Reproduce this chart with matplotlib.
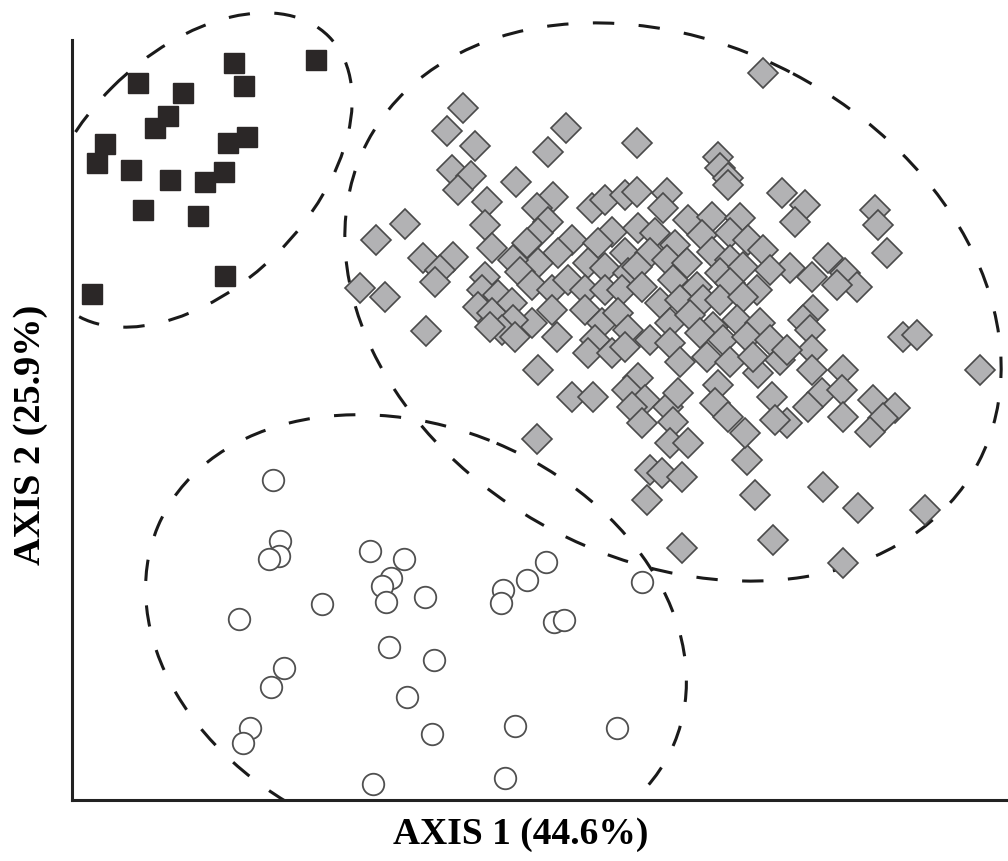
import matplotlib
matplotlib.use('Agg')
import matplotlib.pyplot as plt
from matplotlib.patches import Ellipse

# ordination scores (arbitrary units, axis 2 grows downward in the source raster)
square_x = [138, 183, 168, 155, 234, 244, 316, 105, 97, 131, 170, 205, 224, 228, 247, 143, 198, 225, 92]
square_y = [83, 93, 116, 128, 63, 86, 60, 144, 163, 170, 180, 182, 172, 143, 137, 210, 216, 276, 294]

circle_x = [273, 280, 279, 269, 370, 404, 391, 382, 386, 322, 425, 239, 546, 527, 503, 501,
            554, 564, 642, 389, 434, 284, 271, 407, 250, 243, 432, 515, 617, 373, 505]
circle_y = [480, 541, 556, 559, 551, 559, 578, 586, 602, 604, 597, 619, 562, 580, 590, 603,
            622, 620, 582, 647, 660, 668, 687, 697, 728, 743, 734, 726, 728, 784, 778]

diamond_x = [
    # upper left fringe
    463, 447, 475, 452, 471, 458, 516, 548, 566,
    405, 376, 423, 453, 440, 435, 360, 385, 426,
    # top
    637, 718, 720, 728, 763,
    # right fringe
    805, 875, 878, 887, 812, 828, 845, 857, 837,
    813, 803, 810, 812, 812, 822, 808, 843, 842, 843, 873, 895, 883, 870, 787,
    903, 917, 980, 823, 858, 925, 843,
    # lower fringe
    572, 593, 638, 627, 645, 632, 642, 668, 678, 673, 670, 688, 650, 662, 682,
    647, 747, 755, 682, 773, 718, 715, 728, 745, 758, 772, 775, 537, 538,
    # core, left half
    487, 485, 492, 553, 537, 548, 538, 527, 572, 558, 538, 513, 520, 485, 482,
    498, 478, 492, 512, 532, 552, 568, 552, 532, 513, 502, 515, 490, 557, 592,
    605, 625, 612, 598, 588, 605, 625, 628, 585, 605, 622, 585, 602, 618, 628,
    595, 588, 612, 625,
    # core, right half
    637, 667, 728, 782, 795, 663, 688, 712, 740, 638, 655, 675, 702, 730, 748,
    763, 650, 667, 712, 730, 790, 637, 687, 720, 743, 770, 642, 673, 697, 730,
    757, 660, 680, 703, 720, 743, 670, 690, 713, 737, 760, 650, 670, 700, 723,
    747, 770, 680, 707, 730, 753, 780, 787,
]
diamond_y = [
    108, 131, 146, 170, 176, 190, 182, 152, 128,
    224, 240, 258, 257, 270, 282, 288, 297, 331,
    143, 157, 168, 178, 73,
    205, 210, 225, 253, 277, 258, 273, 287, 285,
    310, 320, 330, 350, 370, 393, 407, 370, 390, 417, 400, 408, 418, 432, 423,
    337, 335, 370, 487, 508, 510, 563,
    397, 397, 378, 390, 400, 407, 423, 407, 393, 422, 443, 443, 470, 473, 477,
    500, 460, 495, 548, 540, 385, 403, 417, 433, 373, 397, 420, 439, 370,
    202, 225, 248, 197, 208, 222, 233, 243, 240, 253, 263, 260, 272, 277, 290,
    295, 307, 313, 303, 285, 290, 280, 310, 323, 320, 330, 337, 327, 337, 208,
    200, 195, 232, 243, 263, 268, 253, 273, 290, 290, 290, 310, 323, 313, 330,
    340, 353, 353, 347,
    192, 193, 185, 193, 222, 208, 220, 217, 218, 228, 233, 245, 235, 233, 240,
    250, 253, 260, 252, 260, 268, 267, 263, 273, 267, 270, 287, 280, 287, 283,
    290, 303, 300, 300, 300, 297, 323, 315, 327, 320, 323, 340, 343, 333, 340,
    337, 340, 362, 357, 362, 357, 360, 350,
]

# group envelopes: centre x, centre y, width, height, angle
envelopes = [
    (195, 170, 378, 234, -45),
    (673, 302, 690, 516, 27.7),
    (416, 635, 560, 416, 22.8),
]

fig = plt.figure(figsize=(10.08, 8.61), dpi=100)
# axes run to the top edge so the envelopes are not cut there; the y spine stops lower
ax = fig.add_axes([72 / 1008, 61 / 861, 936 / 1008, 800 / 861])

for cx, cy, w, h, ang in envelopes:
    e = Ellipse((cx, cy), w, h, angle=ang, fill=False, edgecolor='#1a1a1a',
                linewidth=2.2, linestyle=(0, (7, 8)), zorder=1)
    ax.add_patch(e)

ax.plot(diamond_x, diamond_y, 'D', markersize=15.5, markerfacecolor='#b2b2b4',
        markeredgecolor='#4a4a4a', markeredgewidth=1.2, linestyle='none', zorder=3)
ax.plot(square_x, square_y, 's', markersize=15, markerfacecolor='#2b2727',
        markeredgecolor='#2b2727', markeredgewidth=1.0, linestyle='none', zorder=3)
ax.plot(circle_x, circle_y, 'o', markersize=15.5, markerfacecolor='white',
        markeredgecolor='#505050', markeredgewidth=1.3, linestyle='none', zorder=3)

ax.set_xlim(72, 1008)
ax.set_ylim(800, 0)
ax.set_xticks([])
ax.set_yticks([])
for s in ['top', 'right']:
    ax.spines[s].set_visible(False)
for s in ['left', 'bottom']:
    ax.spines[s].set_linewidth(2.2)
    ax.spines[s].set_color('#222222')
ax.spines['left'].set_bounds(800, 40)

fig.text(521 / 1008, 1 - 835 / 861, 'AXIS 1 (44.6%)', family='Liberation Serif',
         weight='bold', fontsize=27, ha='center', va='center')
fig.text(31 / 1008, 1 - 435 / 861, 'AXIS 2 (25.9%)', family='Liberation Serif',
         weight='bold', fontsize=27.5, ha='center', va='center', rotation=90)

fig.savefig('out.png', dpi=100)
